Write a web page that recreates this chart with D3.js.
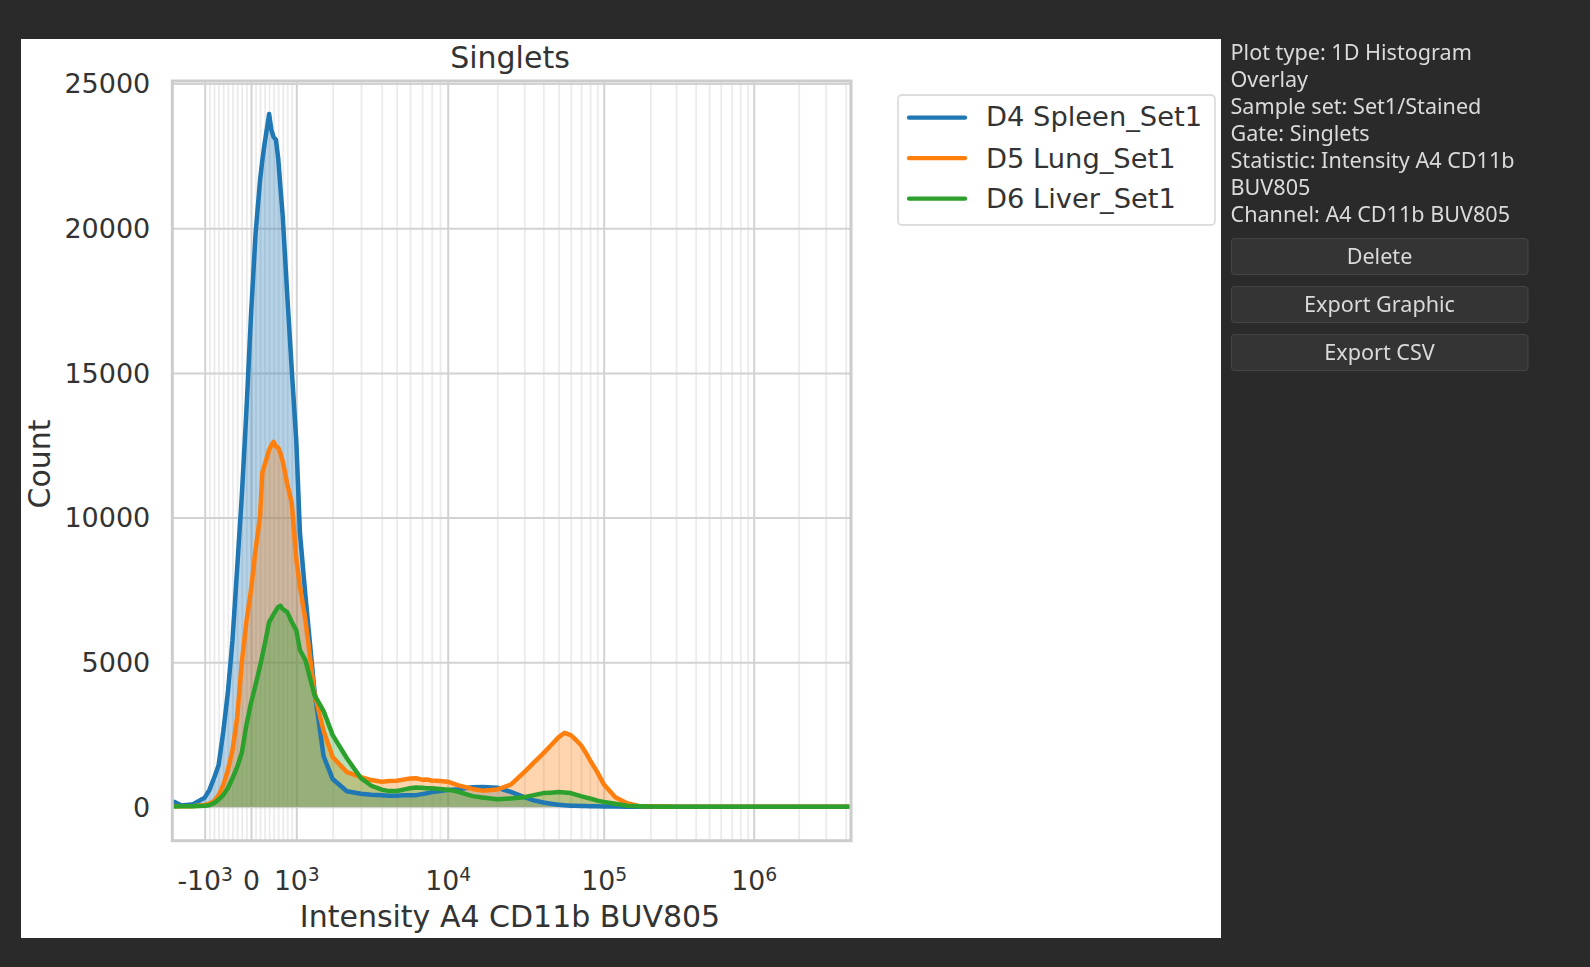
<!DOCTYPE html>
<html>
<head>
<meta charset="utf-8">
<script src="https://cdn.jsdelivr.net/npm/d3@7"></script>
<style>
  html, body { margin: 0; padding: 0; background: #2a2a2a; }
  svg { display: block; filter: blur(0.65px); }
  text { font-family: "DejaVu Sans", sans-serif; }
  .side text { font-family: "Noto Sans", sans-serif; }
</style>
</head>
<body>
<svg id="chart" width="1590" height="967"></svg>
<script>
// histogram bin positions (intensity) and counts
const intensity = [-1650,-1500,-1250,-1000,
  -900,-800,-700,-600,-500,-400,-300,-200,-100,0,100,200,250,300,400,450,500,550,600,650,700,800,900,1000,1100,
  1250,1500,1750,2000,2500,3000,3500,
  4000,4500,5000,5500,6000,6500,7000,7500,8000,9000,10000,
  12000,15000,17000,20000,25000,30000,35000,
  40000,45000,50000,55000,60000,65000,70000,75000,80000,90000,100000,
  125000,150000,175000,200000,300000,1000000,4300000];
const spleen = [170,50,90,320,
  578,990,1440,2583,3950,5760,8220,10710,13650,17000,19800,21670,22350,22920,23950,23400,23150,23060,22430,21400,20430,17700,15100,12650,9465,
  7320,4000,1750,960,540,455,420,
  405,385,380,400,400,405,440,470,510,545,580,
  610,680,690,660,520,335,225,
  150,110,75,55,40,36,30,27,25,18,14,
  8,5,3,2,0,0,0];
const lung = [25,25,25,60,
  110,197,405,750,1270,1960,3070,4970,6390,7490,8880,10050,11550,11810,12340,12510,12620,12450,12420,12220,11950,11160,10500,8570,7630,
  6460,3930,2620,1720,1200,1030,925,
  865,890,900,940,980,990,940,945,910,890,870,
  750,620,560,600,770,1200,1530,
  1850,2130,2410,2560,2480,2320,2130,1890,1610,1200,785,
  335,128,31,17,3,0,0];
const liver = [14,24,24,40,
  59,128,250,405,650,990,1370,1860,2830,3590,4210,4870,5230,5590,6390,6520,6660,6790,6910,6950,6840,6730,6390,6110,5420,
  5070,3860,3310,2480,1680,990,730,
  595,545,550,595,645,670,660,645,645,620,595,
  525,370,320,265,290,335,405,
  475,490,510,495,475,420,370,330,290,215,173,
  105,40,22,10,1,0,0];

const seriesNames = ["D4 Spleen_Set1", "D5 Lung_Set1", "D6 Liver_Set1"];
const seriesValues = [spleen, lung, liver];
const seriesColors = ["#1f77b4", "#ff7f0e", "#2ca02c"];

const yTicks = [0, 5000, 10000, 15000, 20000, 25000];
const xMajorTicks = [-1000, 0, 1000, 10000, 100000, 1000000];
const xMajorBases = ["-10", "0", "10", "10", "10", "10"];
const xMajorExponents = ["3", "", "3", "4", "5", "6"];
const xMinorTicks = [-900,-800,-700,-600,-500,-400,-300,-200,-100,100,200,300,400,500,600,700,800,900,
  2000,3000,4000,5000,6000,7000,8000,9000,
  20000,30000,40000,50000,60000,70000,80000,90000,
  200000,300000,400000,500000,600000,700000,800000,900000,
  2000000,3000000,4000000];

const infoLines = ["Plot type: 1D Histogram", "Overlay", "Sample set: Set1/Stained", "Gate: Singlets",
  "Statistic: Intensity A4 CD11b", "BUV805", "Channel: A4 CD11b BUV805"];
const buttons = ["Delete", "Export Graphic", "Export CSV"];

const svg = d3.select("#chart");
const textColor = "#333";

// white figure panel
svg.append("rect").attr("x", 21).attr("y", 39).attr("width", 1200).attr("height", 899).attr("fill", "#fff");

// the axis is a display transform (linear round 0, log further out), so the scale is piecewise
const x = d3.scaleLinear()
  .domain([-1700,-1000,0,1000,2000,3000,4000,5000,6000,7000,8000,9000,10000,
    20000,30000,40000,50000,60000,70000,80000,90000,100000,
    200000,300000,400000,500000,600000,700000,800000,900000,1000000,
    2000000,3000000,4000000,4600000])
  .range([172.3,204.7,251,296.3,332.7,361,381.7,396.7,410,422,431.7,440,447.7,
    497.3,524.3,543.3,558.7,570.7,581,590,597.3,603.7,
    650.3,676,695.7,709,720.7,731.7,740.3,747.7,753.7,
    798.7,825.7,845.7,851]);
const y = d3.scaleLinear().domain([-1170, 25090]).range([840.7, 81]);

const plot = svg.append("g");

// grid
const minorGrid = plot.append("g")
  .attr("transform", "translate(0,840.7)")
  .call(d3.axisBottom(x).tickValues(xMinorTicks).tickSize(-759.7).tickFormat(""));
minorGrid.select(".domain").remove();
minorGrid.selectAll("line").attr("stroke", "#ccc").attr("stroke-width", 1.8).attr("stroke-opacity", 0.4);

const majorGrid = plot.append("g")
  .attr("transform", "translate(0,840.7)")
  .call(d3.axisBottom(x).tickValues(xMajorTicks).tickSize(-759.7).tickFormat(""));
majorGrid.select(".domain").remove();
majorGrid.selectAll("line").attr("stroke", "#d2d2d2").attr("stroke-width", 2);

const yGrid = plot.append("g")
  .attr("transform", "translate(172.3,0)")
  .call(d3.axisLeft(y).tickValues(yTicks).tickSize(-678.7).tickFormat(""));
yGrid.select(".domain").remove();
yGrid.selectAll("line").attr("stroke", "#d2d2d2").attr("stroke-width", 2);

// histograms
const area = d3.area().x((d, i) => x(intensity[i])).y0(y(0)).y1(d => y(d));
const line = d3.line().x((d, i) => x(intensity[i])).y(d => y(d));

seriesValues.forEach((values, k) => {
  plot.append("path").attr("d", area(values)).attr("fill", seriesColors[k]).attr("fill-opacity", 0.33);
});
seriesValues.forEach((values, k) => {
  plot.append("path").attr("d", line(values))
    .attr("fill", "none")
    .attr("stroke", seriesColors[k])
    .attr("stroke-width", 4.5)
    .attr("stroke-linejoin", "round")
    .attr("stroke-linecap", "round");
});

// spines
plot.append("rect").attr("x", 172.3).attr("y", 81).attr("width", 678.7).attr("height", 759.7)
  .attr("fill", "none").attr("stroke", "#ccc").attr("stroke-width", 3);

// tick labels
const yAxis = svg.append("g")
  .attr("transform", "translate(172.3,0.6)")
  .call(d3.axisLeft(y).tickValues(yTicks).tickSize(0).tickPadding(22).tickFormat(d3.format("d")));
yAxis.select(".domain").remove();
yAxis.selectAll("text").attr("font-size", 27).attr("fill", textColor).style("font-family", "DejaVu Sans");

const xAxis = svg.append("g")
  .attr("transform", "translate(0,840.7)")
  .call(d3.axisBottom(x).tickValues(xMajorTicks).tickSize(0).tickPadding(30).tickFormat(""));
xAxis.select(".domain").remove();
xAxis.selectAll("text").attr("font-size", 26.7).attr("fill", textColor).style("font-family", "DejaVu Sans")
  .each(function (d, i) {
    const label = d3.select(this);
    label.append("tspan").text(xMajorBases[i]);
    if (xMajorExponents[i]) {
      label.append("tspan").attr("font-size", 18.7).attr("dy", "-0.45em").text(xMajorExponents[i]);
    }
  });

// titles
svg.append("text").attr("x", 510).attr("y", 68).attr("text-anchor", "middle")
  .attr("font-size", 30).attr("fill", textColor).text("Singlets");
svg.append("text").attr("x", 510).attr("y", 927).attr("text-anchor", "middle")
  .attr("font-size", 30).attr("fill", textColor).text("Intensity A4 CD11b BUV805");
svg.append("text").attr("transform", "translate(50,464) rotate(-90)").attr("text-anchor", "middle")
  .attr("font-size", 30).attr("fill", textColor).text("Count");

// legend
const legend = svg.append("g");
legend.append("rect").attr("x", 898).attr("y", 95).attr("width", 317).attr("height", 130).attr("rx", 4)
  .attr("fill", "#fff").attr("stroke", "#ddd").attr("stroke-width", 1.8);
const legendRows = legend.selectAll("g").data(seriesNames).join("g")
  .attr("transform", (d, i) => `translate(0,${117.7 + i * 40.5})`);
legendRows.append("line").attr("x1", 909).attr("x2", 965)
  .attr("stroke", (d, i) => seriesColors[i]).attr("stroke-width", 4.3).attr("stroke-linecap", "round");
legendRows.append("text").attr("x", 986).attr("y", (d, i) => i === 0 ? 8 : 9.7)
  .attr("font-size", 27.3).attr("fill", textColor).text(d => d);

// side panel
const side = svg.append("g").attr("class", "side");
side.selectAll("text.info").data(infoLines).join("text").attr("class", "info")
  .attr("x", 1230.5).attr("y", (d, i) => 60 + i * 27)
  .attr("font-size", 21.6).attr("fill", "#dadada").text(d => d);
const btn = side.selectAll("g").data(buttons).join("g")
  .attr("transform", (d, i) => `translate(1231.5,${238.5 + i * 48})`);
btn.append("rect").attr("width", 296.5).attr("height", 36).attr("rx", 3)
  .attr("fill", "#343434").attr("stroke", "#444");
btn.append("text").attr("x", 148).attr("y", 25.5).attr("text-anchor", "middle")
  .attr("font-size", 21.6).attr("fill", "#dadada").text(d => d);
</script>
</body>
</html>
